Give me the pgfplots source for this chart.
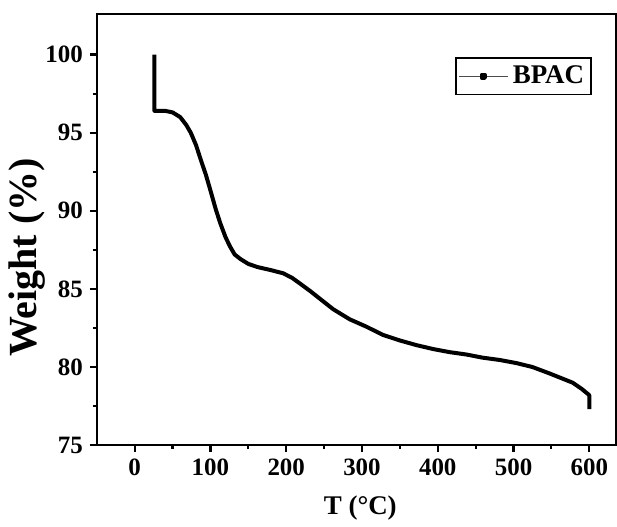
\documentclass[border=0pt]{standalone}
\usepackage{pgfplots}
\pgfplotsset{compat=1.18}
\usetikzlibrary{calc}
\usepackage{fontspec}
\setmainfont{Liberation Serif}

\begin{document}
\begin{tikzpicture}
\begin{axis}[name=ax,
  scale only axis, width=260pt, height=216pt,
  xmin=-50, xmax=635, ymin=75, ymax=102.6,
  xtick={0,100,...,600}, ytick={75,80,...,100},
  minor x tick num=1, minor y tick num=1,
  xtick pos=bottom, ytick pos=left, tick align=outside,
  major tick length=3.5pt, minor tick length=2pt,
  every tick/.style={line width=1.1pt, black},
  axis line style={line width=1.2pt},
  ticklabel style={font=\bfseries\fontsize{12.5}{14}\selectfont},
  /pgf/number format/assume math mode=true,
  xlabel={T (°C)}, ylabel={Weight (\%)},
  xlabel style={font=\bfseries\fontsize{13.5}{16}\selectfont,
    at={(axis description cs:0.5,0)}, anchor=center, yshift=-31.5pt, xshift=2pt},
  ylabel style={font=\bfseries\fontsize{20}{22}\selectfont,
    at={(axis description cs:0,0.5)}, anchor=center, yshift=35pt, xshift=-14pt},
  legend style={at={(axis description cs:0.954,0.9)}, anchor=north east,
    draw=black, line width=0.8pt, font=\bfseries\fontsize{13.5}{15}\selectfont,
    inner xsep=1.5pt, inner ysep=2pt},
  legend cell align=left,
  legend image code/.code={
    \draw[line width=0.5pt, gray!60!black] (0pt,0pt) -- (24.5pt,0pt);
    \fill[black] (12pt,0pt) ++(-0.8pt,-0.8pt) rectangle ++(1.6pt,1.6pt);
  },
]
\addplot[line width=2pt, black, line join=round] coordinates {
(26,100)(26,96.4)(40,96.4)(50,96.3)(60,96.0)(68,95.5)(74,95.0)(81,94.2)
(87,93.3)(94,92.3)(100,91.3)(107,90.1)(113,89.2)(120,88.3)(126,87.7)
(132,87.2)(140,86.9)(150,86.6)(162,86.4)(180,86.2)(196,86.0)(208,85.7)
(218,85.35)(232,84.85)(245,84.35)(262,83.7)(284,83.05)(305,82.6)
(328,82.05)(350,81.7)(372,81.4)(394,81.15)(416,80.95)(438,80.8)
(459,80.6)(482,80.45)(504,80.25)(525,80.0)(547,79.6)(565,79.25)
(578,79.0)(590,78.6)(600,78.2)(600,77.3)
};
\addlegendentry{BPAC}
\end{axis}
\path (ax.south west) ++(-48.5pt,-36pt) rectangle ($(ax.north east)+(0.5pt,7pt)$);
\end{tikzpicture}
\end{document}
